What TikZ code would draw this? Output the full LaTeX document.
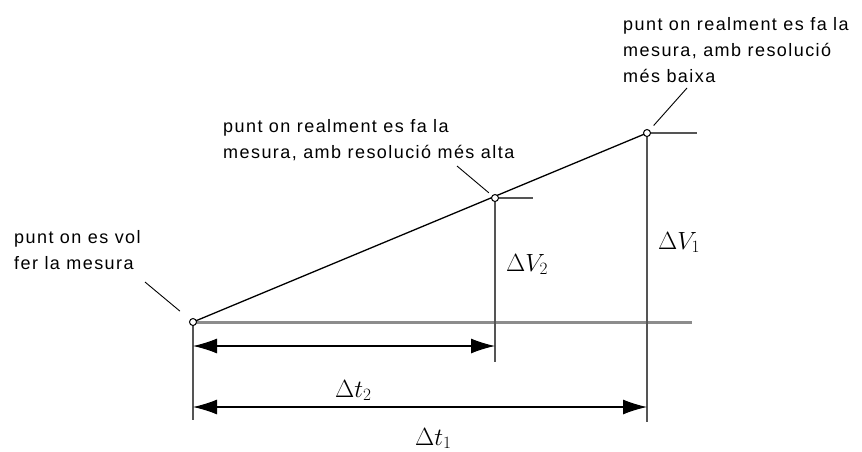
\documentclass[tikz,border=0pt]{standalone}
\usepackage{fontspec}
\setmainfont{Liberation Sans}[LetterSpace=8]
\usetikzlibrary{arrows.meta}
\definecolor{axisgray}{RGB}{140,140,140}
\definecolor{stemgray}{RGB}{85,85,85}
\begin{document}
\begin{tikzpicture}[
  x=1pt, y=-1pt,
  pt/.style={circle,draw,fill=white,line width=1pt,minimum size=7pt,inner sep=0pt},
  axis/.style={draw=axisgray,line width=3pt},
  stem/.style={draw=stemgray,line width=2.6pt},
  slope/.style={draw,line width=1.3pt},
  leader/.style={draw,line width=0.9pt},
  dim/.style={draw,line width=1.1pt,{Latex[length=24pt,width=15pt]}-{Latex[length=24pt,width=15pt]}},
  note/.style={anchor=base west,align=left,inner sep=0pt,font=\fontsize{18}{26}\selectfont},
  lab/.style={anchor=base west,inner sep=0pt,font=\fontsize{26}{30}\selectfont}
]
\useasboundingbox (0,0) rectangle (862,451);
% measurement points
\coordinate (a0) at (193,322);
\coordinate (a2) at (495,198);
\coordinate (a1) at (647,133);
% free ends
\coordinate (axend) at (692,322);
\coordinate (s2end) at (533,198);
\coordinate (s1end) at (697,133);
\coordinate (v0end) at (193,420);
\coordinate (v2end) at (495,362);
\coordinate (v1end) at (647,422);
\coordinate (d2l) at (193,346);
\coordinate (d2r) at (495,346);
\coordinate (d1l) at (193,407);
\coordinate (d1r) at (647,407);
\coordinate (l0) at (145,282);
\coordinate (l2) at (457,166);
\coordinate (l1) at (687,88);

\draw[axis] (a0) -- (axend);
\draw[stem] (a0) -- (v0end);
\draw[stem] (a2) -- (v2end);
\draw[stem] (a2) -- (s2end);
\draw[stem] (a1) -- (v1end);
\draw[stem] (a1) -- (s1end);
\draw[slope] (a0) -- (a1);

\node[pt] (p0) at (a0) {};
\node[pt] (p2) at (a2) {};
\node[pt] (p1) at (a1) {};

\draw[dim] (d2l) -- (d2r);
\draw[dim] (d1l) -- (d1r);

\draw[leader,shorten >=13pt] (l0) -- (p0);
\draw[leader,shorten >=4pt] (l2) -- (p2);
\draw[leader,shorten >=6pt] (l1) -- (p1);

% base = last line
\node[note] (txt0) at (14,269) {punt on es vol\\fer la mesura};
\node[note] (txt2) at (223,158) {punt on realment es fa la\\mesura, amb resolució més alta};
\node[note] (txt1) at (623,82) {punt on realment es fa la\\mesura, amb resolució\\més baixa};

\node[lab] (dv2) at (506,271) {$\Delta V_2$};
\node[lab] (dv1) at (658,249) {$\Delta V_1$};
\node[lab] (dt2) at (335,397) {$\Delta t_2$};
\node[lab] (dt1) at (415,445) {$\Delta t_1$};
\end{tikzpicture}
\end{document}
